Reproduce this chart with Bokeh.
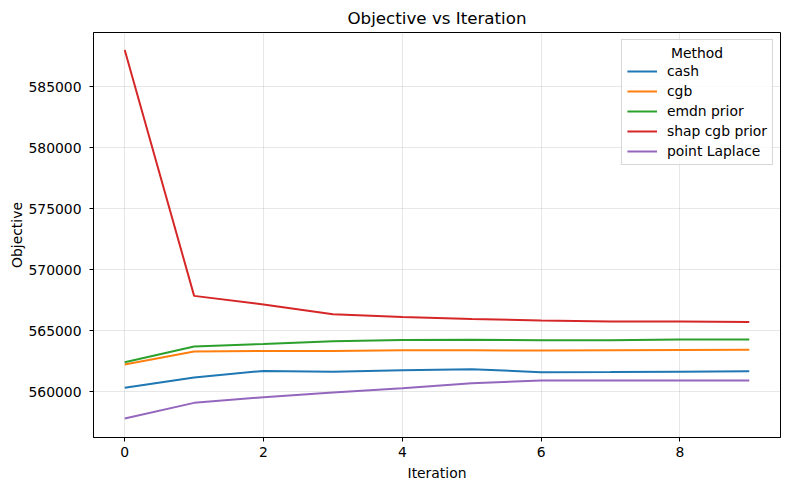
from bokeh.plotting import figure
from bokeh.models import Range1d, SingleIntervalTicker, BasicTickFormatter, Legend, LegendItem
from bokeh.embed import file_html
from bokeh.resources import INLINE

iterations = [0, 1, 2, 3, 4, 5, 6, 7, 8, 9]
methods = ["cash", "cgb", "emdn prior", "shap cgb prior", "point Laplace"]
cash = [560300, 561150, 561690, 561610, 561750, 561830, 561580, 561600, 561630, 561660]
cgb = [562210, 563280, 563330, 563330, 563390, 563380, 563360, 563390, 563410, 563420]
emdn_prior = [562400, 563690, 563900, 564120, 564230, 564240, 564200, 564210, 564260, 564260]
shap_cgb_prior = [588000, 567840, 567130, 566340, 566100, 565950, 565820, 565740, 565740, 565690]
point_laplace = [557790, 559070, 559530, 559920, 560270, 560680, 560900, 560900, 560910, 560910]
colors = ["#1f77b4", "#ff7f0e", "#2ca02c", "#d62728", "#9467bd"]
series = [cash, cgb, emdn_prior, shap_cgb_prior, point_laplace]
legend_title = "Method"

FONT = "DejaVu Sans"
FS = "13.9px"

p = figure(width=790, height=490, output_backend="svg", toolbar_location=None,
           x_range=Range1d(-0.45, 9.45), y_range=Range1d(556230, 589430),
           min_border_left=93, min_border_right=10, min_border_top=32, min_border_bottom=53)

p.title.text = "Objective vs Iteration"
p.title.align = "center"
p.title.text_font = FONT
p.title.text_font_size = "16.7px"
p.title.text_font_style = "normal"
p.title.text_color = "black"

renderers = []
for name, vals, c in zip(methods, series, colors):
    r = p.line(iterations, vals, line_color=c, line_width=2)
    renderers.append((name, r))

p.xaxis.ticker = SingleIntervalTicker(interval=2)
p.yaxis.ticker = SingleIntervalTicker(interval=5000)
p.yaxis.formatter = BasicTickFormatter(use_scientific=False)
for ax in (p.xaxis[0], p.yaxis[0]):
    ax.major_label_text_font = FONT
    ax.major_label_text_font_size = FS
    ax.major_label_text_color = "black"
    ax.axis_label_text_font = FONT
    ax.axis_label_text_font_size = FS
    ax.axis_label_text_font_style = "normal"
    ax.axis_label_text_color = "black"
    ax.minor_tick_line_color = None
    ax.major_tick_in = 0
    ax.major_tick_out = 4
    ax.axis_line_color = "black"
    ax.major_tick_line_color = "black"
p.xaxis.axis_label = "Iteration"
p.yaxis.axis_label = "Objective"
p.yaxis.major_label_standoff = 8
p.yaxis.axis_label_standoff = 0

p.grid.grid_line_color = "#b0b0b0"
p.grid.grid_line_alpha = 0.3
p.outline_line_color = "black"
p.outline_line_width = 1
p.outline_line_alpha = 1

legend = Legend(items=[LegendItem(label=n, renderers=[r]) for n, r in renderers],
                location="top_right", title="\u00a0" * 10 + legend_title)
legend.title_text_font = FONT
legend.title_text_font_size = FS
legend.title_text_font_style = "normal"
legend.title_text_color = "black"
legend.title_standoff = 2
legend.label_text_font = FONT
legend.label_text_font_size = FS
legend.label_text_color = "black"
legend.border_line_color = "#cccccc"
legend.border_line_alpha = 0.8
legend.background_fill_alpha = 0.8
legend.label_height = 16
legend.glyph_height = 16
legend.spacing = 4
legend.padding = 5
legend.margin = 7
legend.glyph_width = 30
legend.label_standoff = 10
p.add_layout(legend)

open("out.html", "w").write(file_html(p, INLINE))
